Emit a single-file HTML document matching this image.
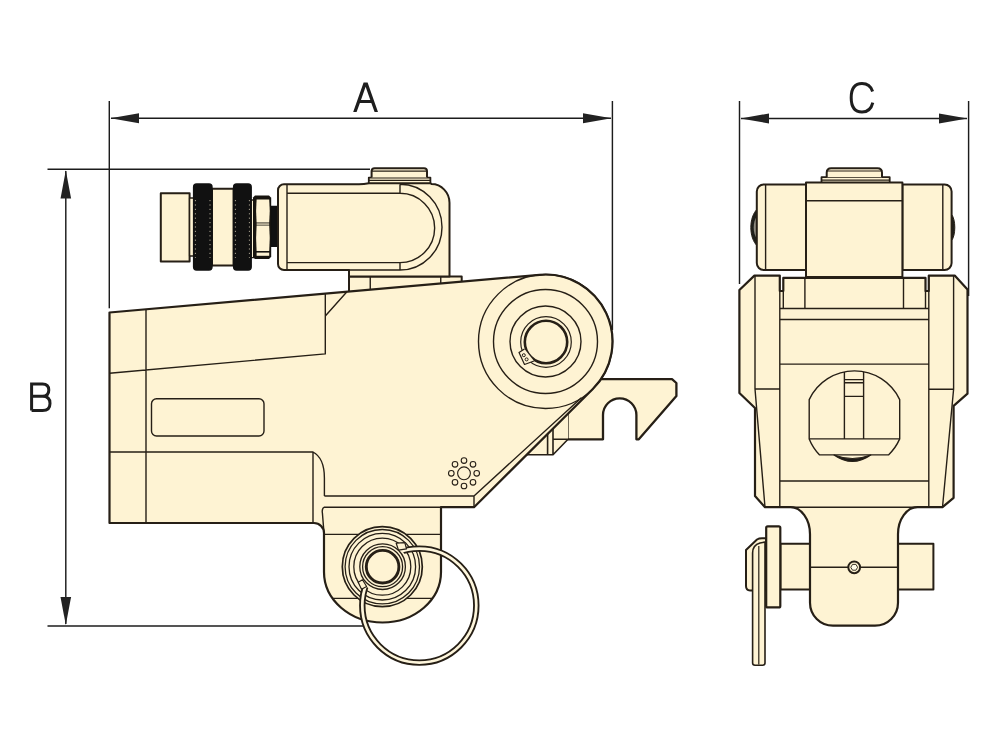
<!DOCTYPE html>
<html><head><meta charset="utf-8"><style>
html,body{margin:0;padding:0;background:#fff;width:1000px;height:750px;overflow:hidden;font-family:"Liberation Sans",sans-serif;}
svg{display:block}
</style></head><body>
<svg width="1000" height="750" viewBox="0 0 1000 750">
<rect width="1000" height="750" fill="#fff"/>
<g fill="none" stroke="#1c1c1c" stroke-width="1.45">
<!-- dimension A -->
<line x1="109.3" y1="101" x2="109.3" y2="308.3"/>
<line x1="612.4" y1="101" x2="612.4" y2="330"/>
<line x1="111" y1="118.2" x2="611" y2="118.2"/>
<!-- dimension C -->
<line x1="739.5" y1="101" x2="739.5" y2="284"/>
<line x1="968.6" y1="101" x2="968.6" y2="296"/>
<line x1="741" y1="118.4" x2="967" y2="118.4"/>
<!-- dimension B -->
<line x1="47.5" y1="169.2" x2="370" y2="169.2"/>
<line x1="47.5" y1="626" x2="364" y2="626"/>
<line x1="65.8" y1="171" x2="65.8" y2="624"/>
</g>
<g fill="#222">
<path d="M110.5,118.2 L139,113.2 L139,123.2 Z"/>
<path d="M611.5,118.2 L583,113.2 L583,123.2 Z"/>
<path d="M740.5,118.4 L769,113.4 L769,123.4 Z"/>
<path d="M967.5,118.4 L939,113.4 L939,123.4 Z"/>
<path d="M65.8,170.3 L60.5,198.5 L71.1,198.5 Z"/>
<path d="M65.8,625 L60.5,597 L71.1,597 Z"/>
</g>
<g fill="none" stroke="#1e1e1e" stroke-width="3" stroke-linejoin="round">

<path stroke-linejoin="miter" d="M31.6,410.5 L31.6,383.9 L42.5,383.9 Q48.8,383.9 48.8,390 Q48.8,396.3 42.5,396.3 L31.6,396.3 M42.5,396.3 Q50,396.3 50,403.4 Q50,410.5 42.5,410.5 L31.6,410.5"/>
<path d="M872.6,91.5 Q870,83.6 862,83.6 Q851.2,83.6 851.2,97.8 Q851.2,112 862,112 Q870.5,112 872.8,102.6"/>
</g>

<path fill="#1e1e1e" fill-rule="evenodd" d="M353.2,112 L363.6,82.4 L367.6,82.4 L378,112 L374.6,112 L371.3,102.9 L359.9,102.9 L356.6,112 Z M361,100.1 L370.3,100.1 L365.6,86.8 Z"/>
<!-- LEFT VIEW -->
<g stroke="#261f16" stroke-width="1.4" fill="#fef3d3" stroke-linejoin="round">
<!-- coupler -->
<rect x="160.8" y="193.3" width="28.8" height="68.3" stroke-width="2"/>
<rect x="189.6" y="198" width="4.5" height="58"/>
<rect x="212" y="188.8" width="21.6" height="76.8" stroke-width="2"/>
<rect x="251" y="200" width="5" height="57.6"/>
<rect x="193.6" y="184" width="18.4" height="86" rx="3" fill="#111" stroke="#111"/>
<rect x="233.6" y="184" width="17.6" height="86" rx="3" fill="#111" stroke="#111"/>
<rect x="271" y="206.4" width="8" height="40" fill="#111" stroke="#111"/>
<g stroke="#bdb6a0" stroke-width="0.9" stroke-dasharray="1.2,3.2" fill="none">
<line x1="195.4" y1="200" x2="195.4" y2="258"/><line x1="210" y1="200" x2="210" y2="258"/>
<line x1="235.4" y1="200" x2="235.4" y2="258"/><line x1="249.4" y1="200" x2="249.4" y2="258"/>
</g>
<path d="M255,195.5 L269,195.5 L271.2,197.7 L271.2,256.8 L269,259 L255,259 L253,257 L253,197.5 Z" fill="#17140f" stroke="none"/>
<path d="M256.6,199.4 L269.2,199.4 Q270.3,211 269.2,222.4 L256.6,222.4 Q255.6,211 256.6,199.4 Z" stroke="none"/>
<path d="M256.6,225.6 L269.2,225.6 Q270.3,238 269.2,251 L256.6,251 Q255.6,238 256.6,225.6 Z" stroke="none"/>
<rect x="256.6" y="223.4" width="12.6" height="1.3" stroke="none"/>
<rect x="256.6" y="252.6" width="12.6" height="3.2" stroke="none"/>
<!-- top cap -->
<path d="M368.8,184 L368.8,177.6 L430.4,177.6 L430.4,184 Z" stroke-width="1.8"/>
<path d="M368.8,180.4 L430.4,180.4" fill="none" stroke-width="1.2"/>
<path d="M371.6,177.6 L371.6,171.3 Q371.6,168.3 374.6,168.3 L424,168.3 Q427,168.3 427,171.3 L427,177.6" stroke-width="2"/>
<path d="M372,171.2 L426.6,171.2" fill="none" stroke-width="1.2"/>
<!-- reaction arm (behind body) -->
<path d="M560,379.2 L672,379.2 L676.4,383 L676.4,396 L638.8,439.3 L636.4,439.3 L636.4,415 A16.7,16.7 0 0 0 603,415 L603,439.3 L568,439.3 L568,400 Z" stroke="none"/>
<path d="M590,379.2 L672,379.2 L676.4,383 L676.4,396 L638.8,439.3 L636.4,439.3 L636.4,415 A16.7,16.7 0 0 0 603,415 L603,439.3 L567.5,439.3" fill="none" stroke-width="2.3"/>
<path d="M568,410 L568,439.3" fill="none" stroke-width="1.3"/>
<path d="M500,454.7 L553,454.7 L568,439.3 L568,400 L500,400 Z" stroke="none"/>
<path d="M500,454.7 L553,454.7 L568,439.3 M547.6,420 L547.6,454.7 M553,420 L553,454.7 M553,439.3 L568,439.3" fill="none" stroke-width="1.6"/>
<!-- platform under swivel -->
<path d="M349,300 L349,276.5 L461.7,276.5 L461.7,290 Z" stroke-width="2"/>
<!-- swivel block -->
<path d="M284,184.3 L359,184.3 Q364,184.3 368.8,183.2 L430.4,183.2 L431.5,184.1 A18,18.7 0 0 1 449.5,202.8 L449.5,276.5 L349,276.5 L349,270 L284,270 A6,6 0 0 1 278,264 L278,190.3 A6,6 0 0 1 284,184.3 Z" stroke-width="2"/>
<path d="M287,184.3 L287,270 M287,193.3 L400,193.3 A34.65,34.65 0 0 1 400,262.6 L287,262.6 M400,184.3 L400,193.3 M400,262.6 L400,270 M400,184.3 A42,42.85 0 0 1 400,270 M349,270 L400,270" fill="none"/>
<path d="M370.25,276.5 L370.25,289.5 M440.75,276.5 L440.75,283.3" fill="none"/>
<!-- main body -->
<path d="M109.5,312.5 L539.6,274.8 A67,67 0 0 1 592.8,389 L474,507.2 L441,507.2 L441,572 A58.5,50.5 0 0 1 324,572 L324,533 A10,10 0 0 0 314,523 L109.5,523 Z" stroke-width="2.2"/>
<path d="M146,309.3 L146,523 M109.5,373.3 L325.3,353.9 L325.3,293.5 M325.3,316 L346.7,292 M109.5,452 L313,452 L313,523 M313,452 Q324.4,458 324.4,478 L324.4,496 M441,507.2 L324.4,507.2 Q321.6,508.5 322.4,513 L324,533 M324.4,496 L474,496 L474,507.2 M474,496 L581.4,397.7 M324.4,534.4 L441,534.4 M332.8,598.4 L432.2,598.4" fill="none"/>
<rect x="151.5" y="398.7" width="112.5" height="37.3" rx="5" fill="none"/>
<!-- big circle rings -->
<circle cx="545.5" cy="341.5" r="67" fill="none"/>
<circle cx="545.5" cy="341.5" r="52" fill="none"/>
<circle cx="545.5" cy="341.5" r="35.5" fill="none"/>
<circle cx="546" cy="342" r="25.3" fill="none" stroke-width="1.2"/>
<circle cx="546" cy="342" r="21.2" fill="none" stroke-width="2.6"/>
<path d="M524.5,349 L519,352.5 L524.5,364.5 L534,361" stroke-width="1.2"/>
<circle cx="523.8" cy="355.2" r="1.5" fill="none" stroke-width="1"/><circle cx="526.6" cy="359.4" r="1.5" fill="none" stroke-width="1"/>
<!-- gear symbol -->
<g fill="none" stroke-width="1.1">
<circle cx="464" cy="473.3" r="6.4"/>
<circle cx="476.7" cy="473.3" r="2.8"/><circle cx="451.3" cy="473.3" r="2.8"/>
<circle cx="464" cy="460.6" r="2.8"/><circle cx="464" cy="486" r="2.8"/>
<circle cx="473" cy="464.3" r="2.8"/><circle cx="455" cy="464.3" r="2.8"/>
<circle cx="473" cy="482.3" r="2.8"/><circle cx="455" cy="482.3" r="2.8"/>
</g>
<!-- lug pin rings -->
<g fill="none" stroke-width="1.3">
<circle cx="382.3" cy="566.7" r="40" stroke-width="1.7" fill="#fef3d3"/>
<circle cx="382.3" cy="566.7" r="37.2"/>
<circle cx="382.3" cy="566.7" r="33.3"/>
<circle cx="382.3" cy="566.7" r="28.5"/>
</g>
<!-- split ring -->
<circle cx="419.3" cy="605.6" r="57" fill="none" stroke="#261f16" stroke-width="6.4"/>
<circle cx="419.3" cy="605.6" r="57" fill="none" stroke="#fef6dc" stroke-width="2.7"/>
<circle cx="382.3" cy="566.7" r="25.5" stroke="none"/>
<g fill="none" stroke-width="1.3">
<circle cx="382.6" cy="566.7" r="22.8"/>
<circle cx="382.6" cy="566.7" r="20"/>
<circle cx="382.6" cy="566.7" r="16.3" stroke-width="2.9"/>
</g>
<path d="M396.2,543.2 L404.8,542.6 L406.5,548.8 L398.5,550.2 Z" stroke-width="1.2"/>
<path d="M358.2,582.2 L362.5,579.8 L366.6,586.5 L361.5,589.2 Z" stroke-width="1.2"/>
</g>

<!-- RIGHT VIEW -->
<g stroke="#261f16" stroke-width="1.4" fill="#fef3d3" stroke-linejoin="round">
<!-- top cap -->
<path d="M821.5,183 L821.5,177.2 L889.7,177.2 L889.7,183 Z" stroke-width="1.8"/>
<path d="M821.5,180.2 L889.7,180.2" fill="none" stroke-width="1.2"/>
<path d="M826.7,177.2 L826.7,172.8 Q826.7,168.3 831.2,168.3 L877.5,168.3 Q882,168.3 882,172.8 L882,177.2" stroke-width="2"/>
<path d="M827,171 L881.7,171" fill="none" stroke-width="1.2"/>
<!-- bulges -->
<path d="M757.5,208.8 C748.6,217 748.6,238 757.5,246.2 Z" fill="#1f1f1a" stroke-width="1"/>
<path d="M757,216.5 C752.6,221 752.6,234 757,238.5 Z" fill="#8e8a7e" stroke="none"/>
<path d="M951.2,214 C956,219 956,236 951.2,241 Z" fill="#1f1f1a" stroke-width="1"/>
<!-- rollers -->
<path d="M806,184.4 L763.8,184.4 A7,7 0 0 0 756.8,191.4 L756.8,263.1 A7,7 0 0 0 763.8,270.1 L806,270.1 Z" stroke-width="2"/>
<path d="M765.6,184.4 L765.6,270.1" fill="none"/>
<path d="M902.4,184.4 L944.6,184.4 A7,7 0 0 1 951.6,191.4 L951.6,263.1 A7,7 0 0 1 944.6,270.1 L902.4,270.1 Z" stroke-width="2"/>
<path d="M942.8,184.4 L942.8,270.1" fill="none"/>
<!-- pin cylinder -->
<rect x="780.4" y="543.7" width="153" height="45.9" stroke-width="2"/>
<!-- main body -->
<path d="M739.4,290 L754.4,275.6 L779.8,275.6 L779.8,291 L783.3,291 L783.3,277.9 L925.5,277.9 L925.5,291 L928.8,291 L928.8,275.6 L954.7,275.6 L967.5,289.5 L967.5,393.7 L953.6,405.8 L953.6,497.8 L942.5,507.2 L917.5,507.2 A19.5,27 0 0 0 898,534.2 L898,602.7 A23,23 0 0 1 875,625.7 L833,625.7 A23,23 0 0 1 810,602.7 L810,534.2 A19.5,27 0 0 0 790.5,507.2 L765,507.2 L755,496 L755,408 L739.4,393 Z" stroke-width="2.2"/>
<path d="M755,275.6 L755,389 L779.8,389 M755,389 L765,507.2 M953.6,275.6 L953.6,389.2 L928.8,389.2 M953.6,389.2 L942.5,507.2 M779.8,291 L779.8,507.2 M928.8,291 L928.8,507.2 M783.3,291 L783.3,308.5 M925.5,291 L925.5,308.5 M804.9,277.9 L804.9,308.5 M903.5,277.9 L903.5,308.5 M779.8,308.5 L928.8,308.5 M779.8,319.5 L928.8,319.5 M779.8,364.1 L928.8,364.1 M779.8,481 L928.8,481 M810,567.2 L898,567.2 M790.5,507.2 L917.5,507.2" fill="none"/>
<!-- center block -->
<rect x="806" y="182.4" width="96.4" height="94.6" stroke-width="2"/>
<path d="M806,200.8 L902.4,200.8" fill="none"/>
<!-- window -->
<path d="M809.2,399.6 A50,50 0 0 1 899.7,399.6 L899.7,438.9 A50,50 0 0 1 888.5,454.9 L819.6,454.9 A50,50 0 0 1 809.2,438.9 Z"/>
<path d="M809.2,438.9 L899.7,438.9 M844.4,372 L844.4,438.9 M863.6,372 L863.6,438.9 M844.4,379.6 L863.6,379.6 M844.4,382.8 L863.6,382.8 M844.4,396.4 L863.6,396.4" fill="none"/>
<path d="M834,455 Q852.4,468 870.8,455 Q852.4,462 834,455 Z" fill="#1c1a16" stroke-width="1.2"/>
<!-- hex -->
<circle cx="854.2" cy="567.3" r="5.9" stroke-width="2"/>
<path d="M857.6,567.3 L855.9,570.2 L852.5,570.2 L850.8,567.3 L852.5,564.4 L855.9,564.4 Z" fill="#fffbe8" stroke-width="0.9"/>
<!-- handle -->
<path d="M746,550 L757,539.5 Q759,538.3 762,538.3 L766,538.3 L766,590.4 L750,590.4 Q746,590.4 746,586 Z" stroke-width="2"/>
<path d="M752.6,553 Q752.6,545 760,543 L765,542 L765,663 Q765,665.2 762.6,665.2 L755,665.2 Q752.6,665.2 752.6,663 Z" stroke-width="1.6"/>
<path d="M758.8,546 L758.8,664.5" fill="none" stroke-width="1.2"/>
<rect x="766.2" y="526.3" width="14.1" height="81.1" rx="1.5" stroke-width="2.2"/>
</g>
</svg>
</body></html>
